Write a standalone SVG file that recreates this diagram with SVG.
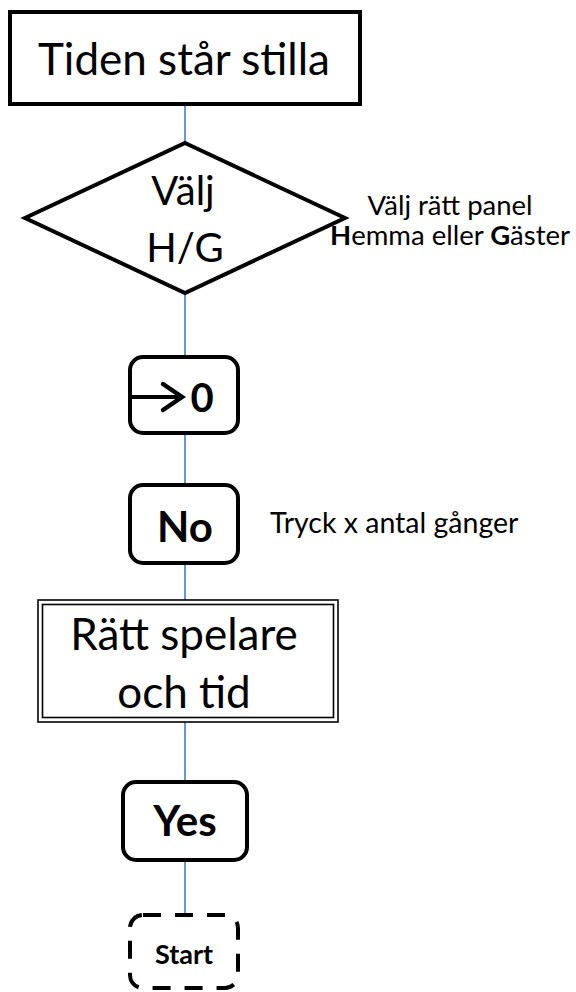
<svg xmlns="http://www.w3.org/2000/svg" width="576" height="992" viewBox="0 0 576 992">
<style>
.bg{fill:#fff}
.box{fill:#fff;stroke:#000;stroke-width:4}
.thin{fill:none;stroke:#000;stroke-width:1.6}
.conn{stroke:#4A7EBB;stroke-width:1.6;fill:none}
.t{font-family:Lato,"Liberation Sans",sans-serif;fill:#000;text-anchor:middle}
.b{font-weight:bold}
.s{font-family:Lato,"Liberation Sans",sans-serif;fill:#000}
</style>
<rect class="bg" x="0" y="0" width="576" height="992"/>
<g id="connectors">
<line class="conn" x1="185" y1="104" x2="185" y2="143"/>
<line class="conn" x1="185" y1="293" x2="185" y2="357"/>
<line class="conn" x1="185" y1="433" x2="185" y2="485"/>
<line class="conn" x1="185" y1="563" x2="185" y2="600"/>
<line class="conn" x1="185" y1="722" x2="185" y2="782"/>
<line class="conn" x1="185" y1="860" x2="185" y2="915"/>
</g>
<g id="n-tiden">
<rect class="box" x="10" y="12" width="350" height="92"/>
<text class="t" x="184" y="75" font-size="44">Tiden står stilla</text>
</g>
<g id="n-valj">
<polygon class="box" stroke-width="5" stroke-linejoin="miter" points="185,143 345,218 185,293 25,218"/>
<text class="t" x="183" y="205" font-size="40">Välj</text>
<text class="t" x="185" y="262" font-size="40">H/G</text>
</g>
<g id="n-note1">
<text class="s" x="450" y="215" font-size="27.5" text-anchor="middle">Välj rätt panel</text>
<text class="s" x="450" y="245" font-size="27.5" text-anchor="middle"><tspan font-weight="bold">H</tspan>emma eller <tspan font-weight="bold">G</tspan>äster</text>
</g>
<g id="n-zero">
<rect class="box" x="130" y="357" width="108" height="76" rx="13"/>
<line x1="130" y1="397" x2="180" y2="397" stroke="#000" stroke-width="4"/>
<polyline points="163,384 182,397 163,410" fill="none" stroke="#000" stroke-width="4.5" stroke-linecap="round" stroke-linejoin="miter"/>
<text class="t b" x="202" y="412" font-size="40">0</text>
</g>
<g id="n-no">
<rect class="box" x="130" y="485" width="108" height="78" rx="13"/>
<text class="t b" x="185" y="542" font-size="42">No</text>
</g>
<g id="n-note2">
<text class="s" x="270" y="533" font-size="28.5">Tryck x antal gånger</text>
</g>
<g id="n-ratt">
<rect x="38" y="600" width="300" height="122" fill="#fff" stroke="#000" stroke-width="1.6"/>
<rect class="thin" x="42.5" y="604.5" width="291" height="113"/>
<text class="t" x="184" y="650" font-size="44">Rätt spelare</text>
<text class="t" x="184" y="708" font-size="44">och tid</text>
</g>
<g id="n-yes">
<rect class="box" x="123" y="782" width="124" height="78" rx="13"/>
<text class="t b" x="185" y="836" font-size="42">Yes</text>
</g>
<g id="n-start">
<rect class="box" x="130" y="915" width="108" height="73" rx="13" stroke-width="4.5" stroke-dasharray="18 14"/>
<text class="t b" x="184" y="964" font-size="27">Start</text>
</g>
</svg>
